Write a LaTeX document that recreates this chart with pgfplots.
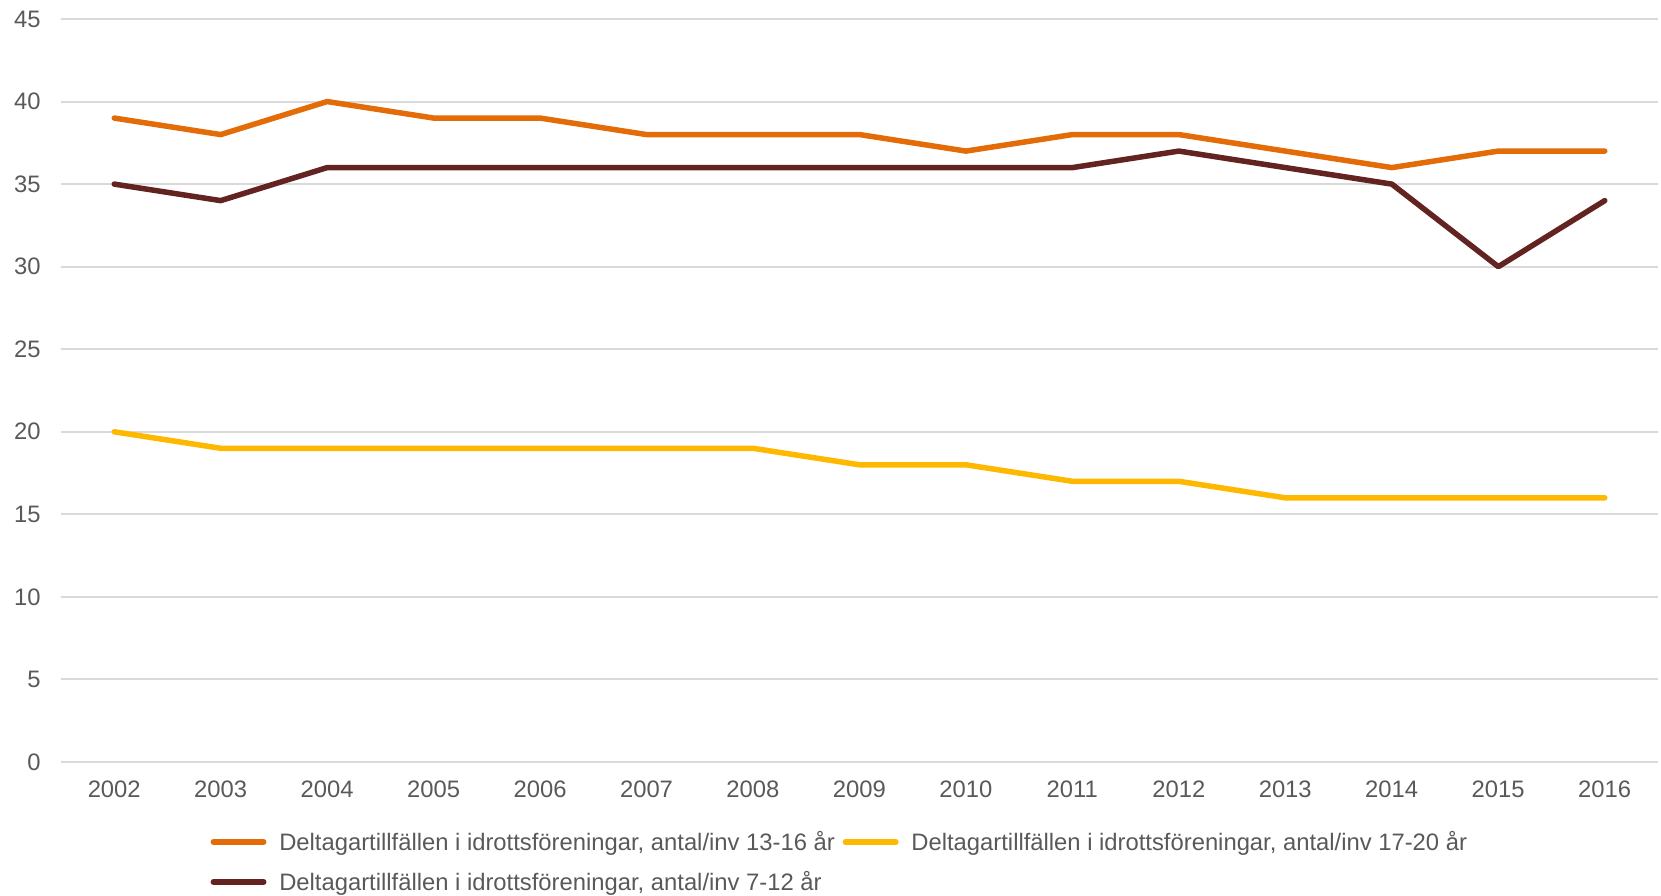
\documentclass[border=0pt]{standalone}
\usepackage{fontspec}
\setmainfont{Liberation Sans}
\usepackage{pgfplots}
\pgfplotsset{compat=1.18}
\definecolor{cA}{RGB}{227,108,9}
\definecolor{cB}{RGB}{255,184,0}
\definecolor{cC}{RGB}{99,35,32}
\definecolor{gridc}{RGB}{217,217,217}
\definecolor{txt}{RGB}{89,89,89}
\newcommand{\chartfont}{\fontsize{11.9bp}{14bp}\selectfont}
\begin{document}
\begin{tikzpicture}
\path[use as bounding box] (-30.5bp,-67bp) rectangle (800bp,381bp);
\begin{axis}[
  at={(0,0)}, anchor=south west,
  scale only axis, width=798.5bp, height=371.5bp,
  xmin=2001.5, xmax=2016.5, ymin=0, ymax=45,
  xtick={2002,...,2016}, ytick={0,5,...,45},
  /pgf/number format/set thousands separator={},
  /pgf/number format/assume math mode=true,
  axis line style={draw=none}, major tick length=0pt,
  ymajorgrids, grid style={gridc, line width=1bp},
  tick label style={font=\chartfont, text=txt, inner sep=0pt},
  yticklabel style={xshift=-10bp},
  xticklabel style={yshift=-9.25bp},
  clip=false,
  legend columns=2, legend cell align=left,
  legend image code/.code={\draw[#1, line cap=round] (1.4bp,0bp) -- (26.6bp,0bp); \path (0bp,0bp) (28bp,0bp);},
  legend style={draw=none, fill=none, inner sep=0pt, outer sep=0pt,
    at={(axis description cs:0.0919,-0.0962)}, anchor=north west,
    font=\chartfont, text=txt,
    column sep=5bp, row sep=11.5bp,
    /tikz/every even column/.append style={column sep=2.5bp},
    nodes={inner sep=0pt, text height=8.5bp, text depth=0pt}},
  every axis plot/.append style={line width=2.75bp, line join=round, line cap=round},
]
\addplot[cA] coordinates {(2002,39)(2003,38)(2004,40)(2005,39)(2006,39)(2007,38)(2008,38)(2009,38)(2010,37)(2011,38)(2012,38)(2013,37)(2014,36)(2015,37)(2016,37)};
\addlegendentry{Deltagartillfällen i idrottsföreningar, antal/inv 13-16 år}
\addplot[cB] coordinates {(2002,20)(2003,19)(2004,19)(2005,19)(2006,19)(2007,19)(2008,19)(2009,18)(2010,18)(2011,17)(2012,17)(2013,16)(2014,16)(2015,16)(2016,16)};
\addlegendentry{Deltagartillfällen i idrottsföreningar, antal/inv 17-20 år}
\addplot[cC] coordinates {(2002,35)(2003,34)(2004,36)(2005,36)(2006,36)(2007,36)(2008,36)(2009,36)(2010,36)(2011,36)(2012,37)(2013,36)(2014,35)(2015,30)(2016,34)};
\addlegendentry{Deltagartillfällen i idrottsföreningar, antal/inv 7-12 år}
\end{axis}
\end{tikzpicture}
\end{document}
